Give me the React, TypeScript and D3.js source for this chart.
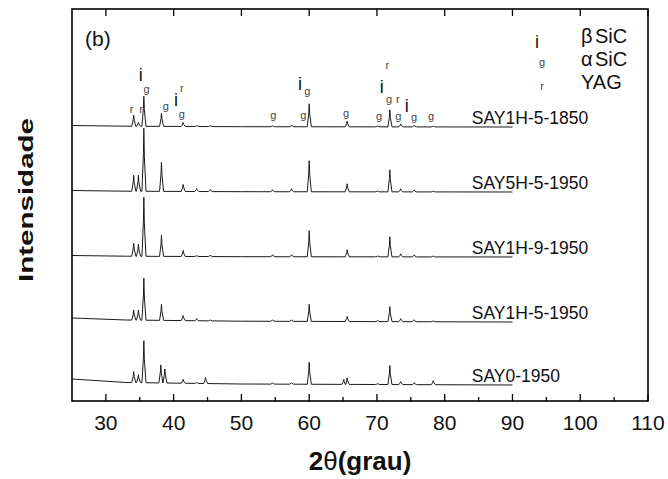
import React from "react";
import * as d3 from "d3";

// ---- data ----
const samples = ["SAY1H-5-1850", "SAY5H-5-1950", "SAY1H-9-1950", "SAY1H-5-1950", "SAY0-1950"];
// baseline intensity level (a.u.) of each stacked pattern, at 2θ = 90°
const offsets = [274, 209, 144, 79, 16];
// baseline drift key points (2θ) and lift per pattern
const baseAngles = [25, 33, 50, 90];
const baseLift = [
  [1.5, 0.8, 0.3, 0],
  [1.5, 0.8, 0.3, 0],
  [1.5, 0.8, 0.3, 0],
  [4, 2, 0.8, 0],
  [6, 2.5, 1, 0],
];
// peaks: [2θ, height]
const peaks1850 = [[34.1, 11], [34.8, 4], [35.6, 30], [38.2, 13], [41.4, 4], [43.4, 1], [45.4, 1], [54.6, 1], [57.4, 1.5], [60.0, 23], [65.6, 5.5], [70.1, 1], [71.9, 17], [73.5, 3], [75.5, 1.5], [78.3, 0.8]];
const peaks5H5 = [[34.1, 16], [34.8, 16], [35.6, 63], [38.2, 29], [41.4, 7], [43.4, 3], [45.4, 2], [54.6, 2], [57.4, 3], [60.0, 31], [65.6, 8], [70.1, 1], [71.9, 22], [73.5, 3], [75.5, 2], [78.3, 1]];
const peaks1H9 = [[34.1, 13], [34.8, 12], [35.6, 59], [38.2, 21], [41.4, 6], [43.4, 1], [45.4, 1.5], [54.6, 2], [57.4, 2], [60.0, 26], [65.6, 7], [70.1, 1], [71.9, 20], [73.5, 3], [75.5, 2], [78.3, 1]];
const peaks1H5 = [[34.1, 10], [34.8, 10], [35.6, 42], [38.2, 16], [41.4, 5], [43.4, 2], [45.4, 1], [54.6, 1.5], [57.4, 1.5], [60.0, 17], [65.6, 5], [70.1, 1], [71.9, 15], [73.5, 3], [75.5, 2], [78.3, 1]];
const peaks0 = [[34.1, 11], [34.8, 8], [35.6, 42], [38.1, 18], [38.7, 14], [41.4, 4], [43.4, 1], [44.7, 6], [54.6, 1], [57.4, 1.5], [60.0, 22], [65.1, 5], [65.6, 6.5], [70.1, 1], [71.9, 19], [73.5, 3], [75.5, 2], [78.3, 4]];
const peakSets = [peaks1850, peaks5H5, peaks1H9, peaks1H5, peaks0];

// phase markers above the top pattern: [symbol, 2θ, level]
const markers: [string, number, number][] = [
  ["i", 35.14, 320], ["g", 36.02, 308], ["r", 33.81, 288], ["r", 35.18, 288],
  ["g", 38.83, 291], ["i", 40.35, 295], ["r", 41.19, 309], ["g", 41.19, 283],
  ["g", 54.71, 282], ["i", 58.65, 311], ["g", 59.73, 306], ["g", 59.14, 282],
  ["g", 65.44, 284], ["g", 70.31, 281], ["r", 71.53, 332], ["i", 70.71, 308],
  ["g", 71.78, 298], ["r", 73.07, 298], ["g", 73.16, 281], ["i", 74.4, 289],
  ["g", 75.47, 280], ["g", 77.98, 281],
];
const legendSymbols = ["i", "g", "r"];
const legendGreek = ["β", "α", ""];
const legendNames = ["SiC", "SiC", "YAG"];

const xTicks = [30, 40, 50, 60, 70, 80, 90, 100, 110];
const xMinor = [35, 45, 55, 65, 75, 85, 95, 105];
const xDomain = [25, 110];
const yDomain = [0, 392];
const dataEnd = 90;

const W = 668, H = 479;
const M = { left: 72, right: 648, top: 9, bottom: 401 };
const FONT = "'Liberation Sans', Arial, Helvetica, sans-serif";

export default function App() {
  const x = d3.scaleLinear().domain(xDomain).range([M.left, M.right]);
  const y = d3.scaleLinear().domain(yDomain).range([M.bottom, M.top]);
  const line = d3.line<[number, number]>().x((d) => x(d[0])).y((d) => y(d[1]));

  const paths = samples.map((_, i) => {
    const base = d3.scaleLinear().domain(baseAngles).range(baseLift[i]);
    const pts: [number, number][] = [];
    baseAngles.forEach((a) => pts.push([a, 0]));
    peakSets[i].forEach(([p, h]) => {
      pts.push([p - 0.28, 0], [p - 0.06, h * 0.6], [p, h], [p + 0.08, h * 0.55], [p + 0.32, 0]);
    });
    pts.sort((a, b) => a[0] - b[0]);
    const out: [number, number][] = pts
      .filter((d) => d[0] >= xDomain[0] && d[0] <= dataEnd)
      .map((d) => [d[0], offsets[i] + base(d[0]) + d[1]]);
    return line(out) as string;
  });

  return (
    <svg width={W} height={H} style={{ position: "absolute", left: 0, top: 0, background: "#fff" }} fontFamily={FONT}>
      <rect x={0} y={0} width={W} height={H} fill="#fff" />
      {paths.map((d, i) => (
        <path key={i} d={d} fill="none" stroke="#1a1a1a" strokeWidth={1} strokeLinejoin="round" />
      ))}
      {samples.map((s, i) => (
        <text key={s} x={x(84.0)} y={y(offsets[i]) - 3} fontSize={17.5} fill="#111">{s}</text>
      ))}
      {markers.map(([s, a, v], i) => (
        <text key={i} x={x(a)} y={y(v)} textAnchor="middle" fontSize={s === "i" ? 18 : 11} fill={s === "i" ? "#111" : "#444"}>{s}</text>
      ))}
      {legendSymbols.map((s, i) => (
        <g key={i}>
          <text x={s === "i" ? 537 : 542} y={[48, 66, 90][i]} textAnchor="middle" fontSize={s === "i" ? 18 : 11} fill={s === "i" ? "#111" : "#444"}>{s}</text>
          <text x={581} y={[43, 66, 89][i]} fontSize={20} fill="#111">
            {legendGreek[i] ? <tspan>{legendGreek[i]}</tspan> : null}
            <tspan x={legendGreek[i] ? 595 : 581}>{legendNames[i]}</tspan>
          </text>
        </g>
      ))}
      {/* frame */}
      <rect x={M.left} y={M.top} width={M.right - M.left} height={M.bottom - M.top} fill="none" stroke="#000" strokeWidth={1.6} />
      {xTicks.map((t) => (
        <g key={t}>
          <line x1={x(t)} x2={x(t)} y1={M.bottom} y2={M.bottom - 7} stroke="#000" strokeWidth={1.3} />
          <line x1={x(t)} x2={x(t)} y1={M.top} y2={M.top + 7} stroke="#000" strokeWidth={1.3} />
          <text x={x(t)} y={430} textAnchor="middle" fontSize={21} fill="#111">{t}</text>
        </g>
      ))}
      {xMinor.map((t) => (
        <line key={t} x1={x(t)} x2={x(t)} y1={M.bottom} y2={M.bottom - 4} stroke="#000" strokeWidth={1.3} />
      ))}
      <text x={85} y={46} fontSize={21} fill="#111">(b)</text>
      <text transform="translate(33,200) rotate(-90)" textAnchor="middle" fontSize={21} fontWeight="bold" textLength={164} lengthAdjust="spacingAndGlyphs" fill="#111">Intensidade</text>
      <text x={360} y={470} textAnchor="middle" fontSize={26} fontWeight="bold" fill="#111">
        2<tspan fontWeight="normal">θ</tspan>(grau)
      </text>
    </svg>
  );
}
